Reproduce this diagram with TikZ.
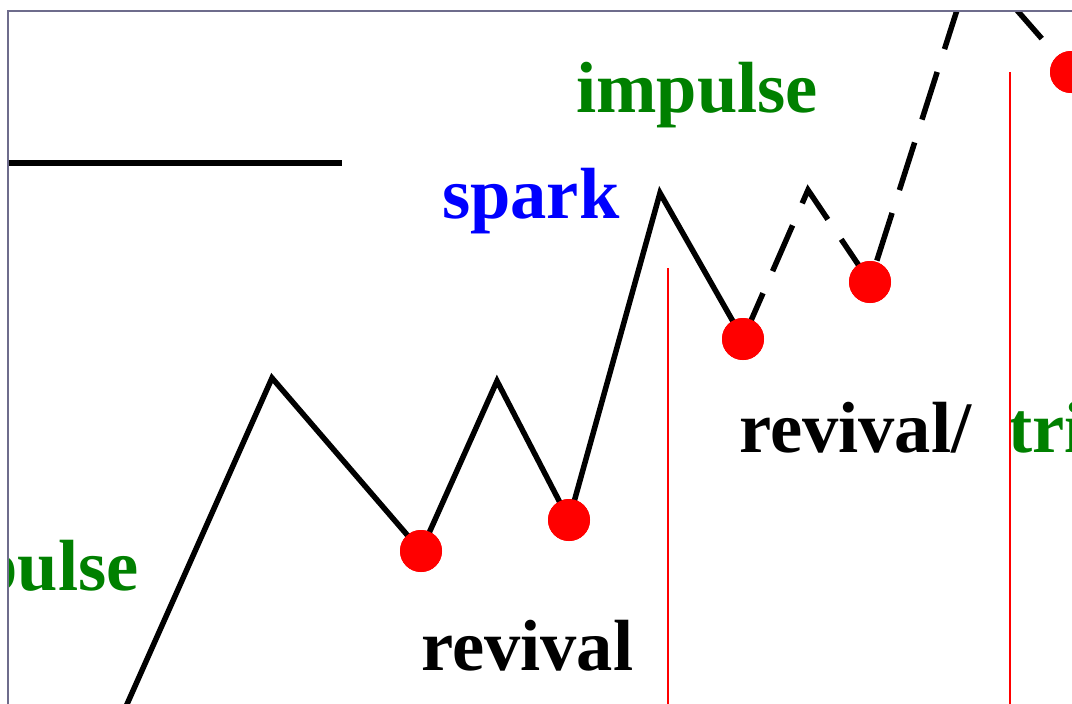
\documentclass[tikz,border=0pt]{standalone}
\usepackage{fontspec}
\setmainfont{Liberation Serif}
\definecolor{framec}{RGB}{110,108,140}
\definecolor{lblgreen}{RGB}{0,128,0}
\definecolor{lblblue}{RGB}{0,0,255}
\begin{document}
\begin{tikzpicture}[x=1pt,y=-1pt,
  lbl/.style={inner sep=0pt, font=\fontsize{72.5}{72.5}\selectfont\bfseries},
  trend/.style={line width=5.5pt, line join=miter},
  dashtrend/.style={line width=5.5pt, dash pattern=on 50pt off 24pt},
  dot/.style={circle, fill=red, inner sep=0pt, minimum size=42pt},
  vline/.style={draw=red, line width=2pt}]
\useasboundingbox (0,0) rectangle (1072,704);
\begin{scope}
\clip (8,11) rectangle (1072,704);
% coordinates of the trend line
\coordinate (s0) at (100,765);
\coordinate (p1) at (272,378);
\coordinate (p2) at (497,381);
\coordinate (p3) at (660,193);
\coordinate (p4) at (808,190);
\coordinate (p5) at (973,-40);
\coordinate (h0) at (8,163);
\coordinate (h1) at (342,163);
\coordinate (r1a) at (668,268);
\coordinate (r1b) at (668,710);
\coordinate (r2a) at (1010,72);
\coordinate (r2b) at (1010,710);
% dots
\node[dot] (d1) at (421,551) {};
\node[dot] (d2) at (569,520) {};
\node[dot] (d3) at (743,339) {};
\node[dot] (d4) at (870,282) {};
\node[dot] (d5) at (1071,72) {};
% lines
\draw[trend] (h0) -- (h1);
\draw[trend] (s0) -- (p1) -- (d1.center) -- (p2) -- (d2.center) -- (p3) -- (d3.center);
\draw[dashtrend] (d3.center) -- (p4) -- (d4.center) -- (p5) -- (d5.center);
% dots on top of the lines
\foreach \n in {d1,d2,d3,d4,d5} \fill[red] (\n) circle (21pt);
% labels
\node[lbl, text=lblgreen, anchor=base west] (imp) at (576,112) {impulse};
\node[lbl, text=lblblue, anchor=base west] (spk) at (442,218) {spark};
\node[lbl, text=lblgreen, anchor=base east] (imp2) at (139,590) {pulse};
\node[lbl, anchor=base west] (rev) at (421,670) {revival};
\node[lbl, anchor=base west] (rev2) at (739,452) {revival/};
\node[lbl, text=lblgreen, anchor=base west] (tri) at (1008,452) {tri};
% red vertical lines
\draw[vline] (r1a) -- (r1b);
\draw[vline] (r2a) -- (r2b);
\end{scope}
\draw[framec, line width=1.5pt] (8,704) -- (8,11) -- (1072,11);
\end{tikzpicture}
\end{document}
